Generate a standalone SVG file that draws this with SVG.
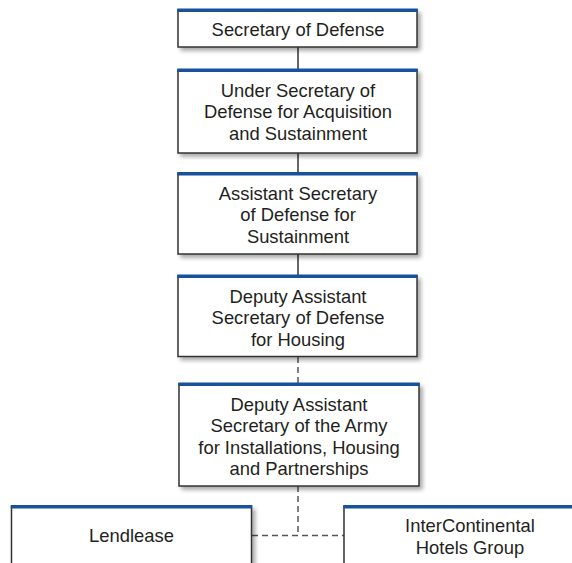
<svg xmlns="http://www.w3.org/2000/svg" width="572" height="563" viewBox="0 0 572 563">
  <defs>
    <filter id="sh" x="-10%" y="-10%" width="130%" height="140%">
      <feDropShadow dx="3" dy="3" stdDeviation="2" flood-color="#000" flood-opacity="0.35"/>
    </filter>
  </defs>
  <style>
    .box { fill: #ffffff; stroke: #333333; stroke-width: 1.5; filter: url(#sh); }
    .bar { fill: #17529b; }
    .t { font-family: "Liberation Sans", Arial, sans-serif; font-size: 18.4px; fill: #231f20; text-anchor: middle; }
    .solid { stroke: #333333; stroke-width: 1.5; fill: none; }
    .dash { stroke: #555555; stroke-width: 1.5; fill: none; stroke-dasharray: 6 4; }
  </style>
  <rect width="572" height="563" fill="#ffffff"/>
  <g id="connectors">
    <line class="solid" x1="298" y1="47" x2="298" y2="69"/>
    <line class="solid" x1="298" y1="153" x2="298" y2="172"/>
    <line class="solid" x1="298" y1="254" x2="298" y2="275"/>
    <line class="dash" x1="298" y1="357" x2="298" y2="383"/>
    <line class="dash" x1="298" y1="486" x2="298" y2="535.5"/>
    <line class="dash" x1="252" y1="535.5" x2="344" y2="535.5"/>
  </g>
  <g id="secdef">
    <rect class="box" x="178" y="10" width="239" height="37"/>
    <rect class="bar" x="177.25" y="8.5" width="240.5" height="3.5"/>
    <text class="t" x="298" y="36">Secretary of Defense</text>
  </g>
  <g id="usd">
    <rect class="box" x="178" y="70" width="239" height="83"/>
    <rect class="bar" x="177.25" y="68.5" width="240.5" height="3.5"/>
    <text class="t" x="298" y="96.5">Under Secretary of</text>
    <text class="t" x="298" y="118">Defense for Acquisition</text>
    <text class="t" x="298" y="139.5">and Sustainment</text>
  </g>
  <g id="asd">
    <rect class="box" x="178" y="173.5" width="239" height="80.5"/>
    <rect class="bar" x="177.25" y="172" width="240.5" height="3.5"/>
    <text class="t" x="298" y="199.5">Assistant Secretary</text>
    <text class="t" x="298" y="221">of Defense for</text>
    <text class="t" x="298" y="242.5">Sustainment</text>
  </g>
  <g id="dasd">
    <rect class="box" x="178" y="276" width="239" height="80.5"/>
    <rect class="bar" x="177.25" y="274.5" width="240.5" height="3.5"/>
    <text class="t" x="298" y="302.5">Deputy Assistant</text>
    <text class="t" x="298" y="324">Secretary of Defense</text>
    <text class="t" x="298" y="345.5">for Housing</text>
  </g>
  <g id="dasa">
    <rect class="box" x="179" y="384" width="240" height="102"/>
    <rect class="bar" x="178.25" y="382.5" width="241.5" height="3.5"/>
    <text class="t" x="299" y="410.5">Deputy Assistant</text>
    <text class="t" x="299" y="432">Secretary of the Army</text>
    <text class="t" x="299" y="453.5">for Installations, Housing</text>
    <text class="t" x="299" y="475">and Partnerships</text>
  </g>
  <g id="lendlease">
    <rect class="box" x="11.5" y="506.5" width="240" height="80"/>
    <rect class="bar" x="10.75" y="505" width="241.5" height="3.5"/>
    <text class="t" x="131.5" y="542">Lendlease</text>
  </g>
  <g id="ihg">
    <rect class="box" x="344" y="506.5" width="252" height="80"/>
    <rect class="bar" x="343.25" y="505" width="253.5" height="3.5"/>
    <text class="t" x="470" y="532">InterContinental</text>
    <text class="t" x="470" y="553.5">Hotels Group</text>
  </g>
</svg>
